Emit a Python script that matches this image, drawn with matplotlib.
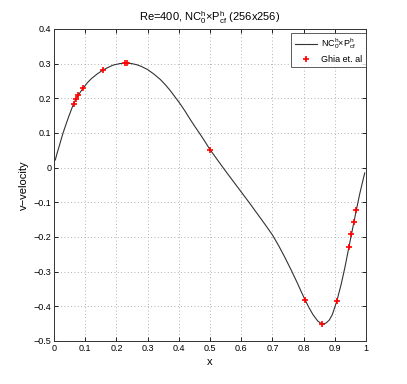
"""Re=400 lid-driven cavity: v-velocity along the horizontal centreline."""

import matplotlib
matplotlib.use("Agg")
import matplotlib.pyplot as plt
from matplotlib.ticker import FuncFormatter

plt.rcParams['font.family'] = ['Liberation Sans', 'DejaVu Sans']
plt.rcParams['mathtext.fontset'] = 'custom'
plt.rcParams['mathtext.rm'] = 'Liberation Sans'
plt.rcParams['mathtext.it'] = 'Liberation Sans'

# computed profile (256x256)
x_sim = [0.004, 0.010, 0.017, 0.023, 0.029, 0.038, 0.047, 0.055, 0.0625,
         0.070, 0.078, 0.086, 0.094, 0.107, 0.12, 0.138, 0.156, 0.173,
         0.19, 0.21, 0.23, 0.25, 0.265, 0.28, 0.30, 0.32, 0.34, 0.356,
         0.372, 0.387, 0.402, 0.42, 0.436, 0.452, 0.468, 0.484, 0.50,
         0.525, 0.55, 0.575, 0.60, 0.625, 0.65, 0.675, 0.70, 0.72, 0.74,
         0.76, 0.78, 0.793, 0.805, 0.818, 0.83, 0.845, 0.855, 0.863,
         0.872, 0.882, 0.892, 0.906, 0.92, 0.933, 0.945, 0.953, 0.961,
         0.969, 0.98, 0.99, 0.996]
v_sim = [0.022, 0.042, 0.063, 0.082, 0.100, 0.124, 0.147, 0.166, 0.184,
         0.197, 0.209, 0.220, 0.230, 0.245, 0.257, 0.270, 0.281, 0.289,
         0.296, 0.300, 0.302, 0.300, 0.297, 0.292, 0.283, 0.270, 0.255,
         0.240, 0.223, 0.205, 0.187, 0.163, 0.140, 0.118, 0.097, 0.075,
         0.052, 0.021, -0.010, -0.040, -0.070, -0.100, -0.131, -0.162,
         -0.194, -0.225, -0.259, -0.295, -0.333, -0.359, -0.382, -0.405,
         -0.424, -0.442, -0.449, -0.451, -0.448, -0.440, -0.424, -0.386,
         -0.338, -0.285, -0.230, -0.194, -0.158, -0.122, -0.075, -0.037,
         -0.015]

# Ghia et al. (1982) reference values, Re=400
x_ghia = [0.9688, 0.9609, 0.9531, 0.9453, 0.9063, 0.8594, 0.8047, 0.5,
          0.2344, 0.2266, 0.1563, 0.0938, 0.0781, 0.0703, 0.0625]
v_ghia = [-0.12146, -0.15663, -0.19254, -0.22847, -0.38598, -0.44993,
          -0.38289, 0.05188, 0.30174, 0.30203, 0.28124, 0.22965, 0.20920,
          0.19713, 0.18360]

x_ticks = [0, 0.1, 0.2, 0.3, 0.4, 0.5, 0.6, 0.7, 0.8, 0.9, 1]
y_ticks = [-0.5, -0.4, -0.3, -0.2, -0.1, 0, 0.1, 0.2, 0.3, 0.4]

fig = plt.figure(figsize=(4.07, 3.84), dpi=100)
ax = fig.add_axes([0.1327, 0.112, 0.7666, 0.8125])

ax.plot(x_sim, v_sim, color='#333333', lw=0.8,
        label=r'NC$_0^h$$\times$P$_{cf}^h$')
ax.plot(x_ghia, v_ghia, linestyle='none', marker='+', color='red',
        markersize=5, markeredgewidth=1.2, label='Ghia et. al')

ax.set_xlim(0, 1)
ax.set_ylim(-0.5, 0.4)
ax.set_xticks(x_ticks)
ax.set_yticks(y_ticks)
fmt = FuncFormatter(lambda v, p: ('%g' % v).replace('-', '\u2212'))
ax.xaxis.set_major_formatter(fmt)
ax.yaxis.set_major_formatter(fmt)
ax.tick_params(direction='in', length=3, width=0.6, labelsize=6.5,
               top=True, right=True, pad=2)
ax.grid(True, linestyle=(0, (1, 3)), color='#999999', lw=0.6)
for s in ax.spines.values():
    s.set_linewidth(0.7)
    s.set_color('#333333')

ax.set_xlabel('x', fontsize=8, labelpad=3)
ax.set_ylabel('v\u2212velocity', fontsize=8, labelpad=3)
ax.set_title(r'Re=400, NC$_0^h$$\times$P$_{cf}^h$ (256x256)', fontsize=8,
             pad=6)

leg = ax.legend(loc='upper right', bbox_to_anchor=(1.0, 0.988),
                fontsize=6.5, frameon=True, fancybox=False,
                borderaxespad=0.0, handlelength=2.4, handletextpad=0.5,
                borderpad=0.4, labelspacing=0.4)
leg.get_frame().set_edgecolor('#333333')
leg.get_frame().set_linewidth(0.7)

fig.savefig('out.png', dpi=100)
plt.close(fig)
